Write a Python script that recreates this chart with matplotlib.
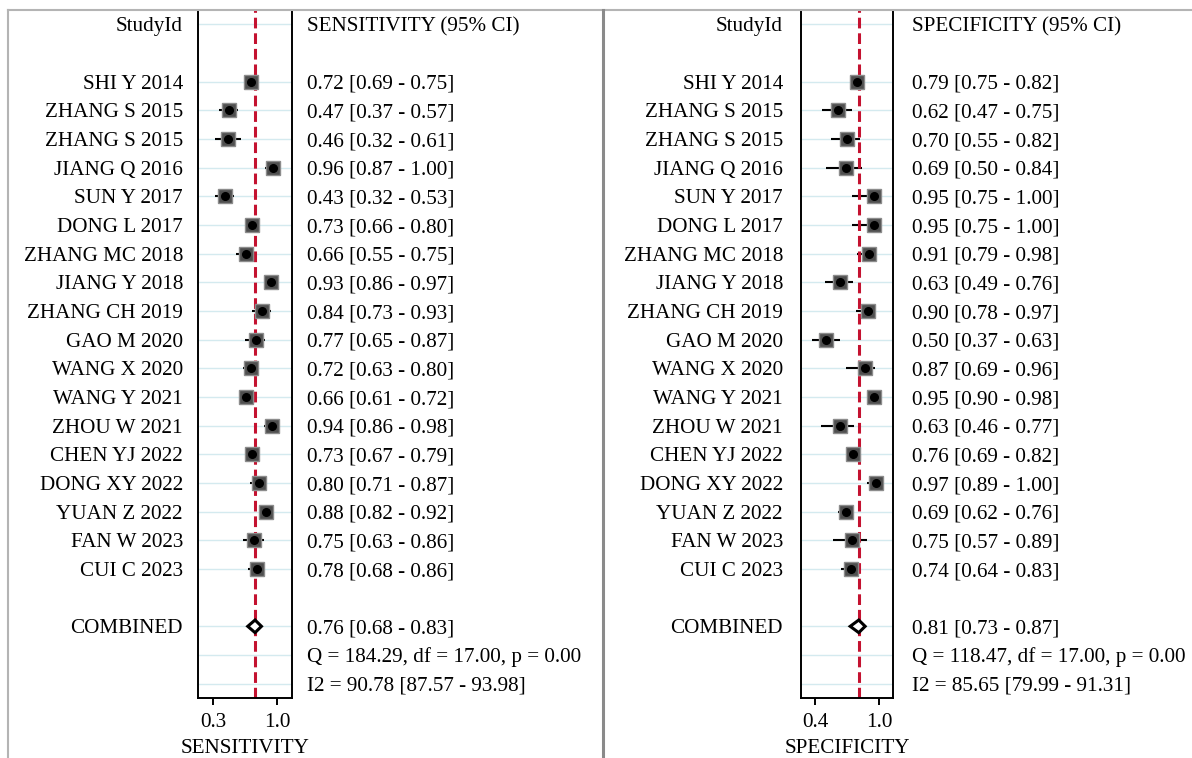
import numpy as np
import matplotlib
matplotlib.use("Agg")
import matplotlib.pyplot as plt
from matplotlib.transforms import blended_transform_factory
from matplotlib.lines import Line2D

plt.rcParams['font.family'] = ['Liberation Serif', 'DejaVu Serif']

# ---- data ----
studies = ["SHI Y 2014", "ZHANG S 2015", "ZHANG S 2015", "JIANG Q 2016", "SUN Y 2017",
           "DONG L 2017", "ZHANG MC 2018", "JIANG Y 2018", "ZHANG CH 2019", "GAO M 2020",
           "WANG X 2020", "WANG Y 2021", "ZHOU W 2021", "CHEN YJ 2022", "DONG XY 2022",
           "YUAN Z 2022", "FAN W 2023", "CUI C 2023"]

sens    = [0.72, 0.47, 0.46, 0.96, 0.43, 0.73, 0.66, 0.93, 0.84, 0.77, 0.72, 0.66, 0.94, 0.73, 0.80, 0.88, 0.75, 0.78]
sens_lo = [0.69, 0.37, 0.32, 0.87, 0.32, 0.66, 0.55, 0.86, 0.73, 0.65, 0.63, 0.61, 0.86, 0.67, 0.71, 0.82, 0.63, 0.68]
sens_hi = [0.75, 0.57, 0.61, 1.00, 0.53, 0.80, 0.75, 0.97, 0.93, 0.87, 0.80, 0.72, 0.98, 0.79, 0.87, 0.92, 0.86, 0.86]

spec    = [0.79, 0.62, 0.70, 0.69, 0.95, 0.95, 0.91, 0.63, 0.90, 0.50, 0.87, 0.95, 0.63, 0.76, 0.97, 0.69, 0.75, 0.74]
spec_lo = [0.75, 0.47, 0.55, 0.50, 0.75, 0.75, 0.79, 0.49, 0.78, 0.37, 0.69, 0.90, 0.46, 0.69, 0.89, 0.62, 0.57, 0.64]
spec_hi = [0.82, 0.75, 0.82, 0.84, 1.00, 1.00, 0.98, 0.76, 0.97, 0.63, 0.96, 0.98, 0.77, 0.82, 1.00, 0.76, 0.89, 0.83]

sens_pooled = (0.76, 0.68, 0.83)
spec_pooled = (0.81, 0.73, 0.87)

sens_stats = ["Q = 184.29, df = 17.00, p = 0.00", "I2 = 90.78 [87.57 - 93.98]"]
spec_stats = ["Q = 118.47, df = 17.00, p = 0.00", "I2 = 85.65 [79.99 - 91.31]"]

sens_ticks = [0.3, 1.0]
spec_ticks = [0.4, 1.0]

W, H = 1192, 758
FS = 15.2
fig = plt.figure(figsize=(W / 100, H / 100), dpi=100)


def rect(x0, x1, y0, y1):
    # pixel box -> figure fraction
    return [x0 / W, 1 - y1 / H, (x1 - x0) / W, (y1 - y0) / H]


def panel(box, xlim, label_x, text_x, est, lo, hi, pooled, stats, ticks, name):
    ax = fig.add_axes(box)
    n = len(est)
    rows = np.arange(n) + 2
    pool_row = n + 3
    stat_rows = [n + 4, n + 5]

    for r in [0] + list(rows) + [pool_row] + stat_rows:
        ax.axhline(r, color='#d4eaef', lw=1, zorder=0)

    ax.hlines(rows, lo, hi, color='black', lw=1.5, zorder=2)
    m, l, h = pooled
    ax.axvline(m, color='#c41230', lw=2.2, ls=(0, (3.5, 1.6)), zorder=2.5)
    ax.plot(est, rows, 's', ms=10, mfc='#4f4f4f', mec='#8c8c8c', mew=1, zorder=3)
    ax.plot(est, rows, 'o', ms=5.5, color='black', zorder=4)
    ax.fill([l, m, h, m], [pool_row, pool_row - 0.22, pool_row, pool_row + 0.22],
            facecolor='white', edgecolor='black', lw=2.2, zorder=4)

    ax.set_xlim(*xlim)
    ax.set_ylim(n + 5.5, -0.5)
    ax.set_yticks([])
    ax.set_xticks(ticks)
    ax.set_xticklabels([f"{t:.1f}" for t in ticks])
    ax.tick_params(axis='x', direction='out', length=5, width=1.4, labelsize=FS, pad=6)
    ax.set_xlabel(name, fontsize=FS, labelpad=5)
    ax.spines['top'].set_visible(False)
    for s in ['left', 'right', 'bottom']:
        ax.spines[s].set_linewidth(1.4)

    tr = blended_transform_factory(fig.transFigure, ax.transData)
    kw = dict(transform=tr, va='center_baseline', fontsize=FS)
    fig.text(label_x / W, 0, "StudyId", ha='right', **kw)
    fig.text(text_x / W, 0, f"{name} (95% CI)", ha='left', **kw)
    for i, r in enumerate(rows):
        fig.text(label_x / W, r, studies[i], ha='right', **kw)
        fig.text(text_x / W, r, f"{est[i]:.2f} [{lo[i]:.2f} - {hi[i]:.2f}]", ha='left', **kw)
    fig.text(label_x / W, pool_row, "COMBINED", ha='right', **kw)
    fig.text(text_x / W, pool_row, f"{m:.2f} [{l:.2f} - {h:.2f}]", ha='left', **kw)
    for s, r in zip(stats, stat_rows):
        fig.text(text_x / W, r, s, ha='left', **kw)
    return ax


panel(rect(198, 292, 10, 698), (0.136, 1.164), 183, 307,
      sens, sens_lo, sens_hi, sens_pooled, sens_stats, sens_ticks, "SENSITIVITY")
panel(rect(801, 893, 10, 698), (0.269, 1.131), 783, 912,
      spec, spec_lo, spec_hi, spec_pooled, spec_stats, spec_ticks, "SPECIFICITY")

# gray frame lines of the graph window
fig.add_artist(Line2D([8 / W, 1], [1 - 10 / H] * 2, color='#b4b4b4', lw=1.5))
fig.add_artist(Line2D([8 / W] * 2, [0, 1 - 10 / H], color='#b4b4b4', lw=1.5))
fig.add_artist(Line2D([602.5 / W] * 2, [0, 1 - 10 / H], color='#8a8a8a', lw=2.2))

fig.savefig("out.png", dpi=100)
